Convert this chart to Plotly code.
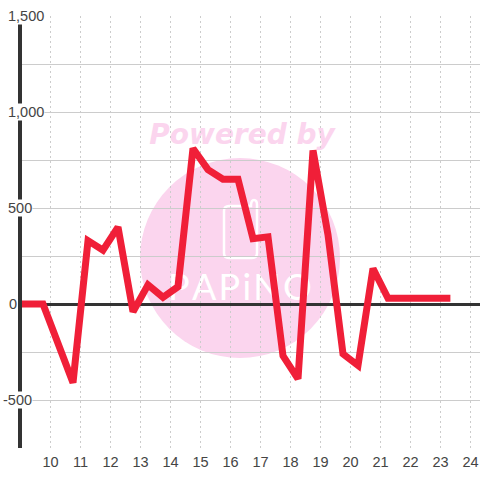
import plotly.graph_objects as go

xs = [8.75, 9.25, 9.75, 10.75, 11.25, 11.75, 12.25, 12.75, 13.25, 13.75, 14.25, 14.75, 15.25, 15.75, 16.25, 16.75, 17.25, 17.75, 18.25, 18.75, 19.25, 19.75, 20.25, 20.75, 21.25, 21.75, 22.25, 22.75, 23.33]
ys = [0, 0, 0, -410, 330, 280, 400, -40, 100, 35, 90, 810, 700, 650, 650, 340, 350, -270, -390, 800, 360, -260, -320, 185, 30, 30, 30, 30, 30]
x_ticks = list(range(10, 25))
y_grid = [-750, -500, -250, 0, 250, 500, 750, 1000, 1250, 1500]
y_labels = {1500: "1,500", 1000: "1,000", 500: "500", 0: "0", -500: "-500"}

L, R, T, B = 22, 480, 16, 448
def px_to_x(p): return 10 + (p - 50.5) / 30
def py_to_y(p): return (304 - p) / 96 * 500
def pt(px, py): return f"{px_to_x(px):.4f},{py_to_y(py):.2f}"

GRID = "#cccccc"
INK = "#333333"
TEXT = "#444444"
PINK = "#fbd5ee"

fig = go.Figure()
fig.add_trace(go.Scatter(x=xs, y=ys, mode="lines", cliponaxis=False, hoverinfo="skip",
                         line=dict(color="#f01f38", width=7)))

logo = ("M " + pt(224, 211) + " Q " + pt(224, 206) + " " + pt(229, 206)
        + " L " + pt(251, 206) + " Q " + pt(251, 200) + " " + pt(254, 200)
        + " Q " + pt(257, 200) + " " + pt(257, 205)
        + " L " + pt(257, 253) + " Q " + pt(257, 258) + " " + pt(252, 258)
        + " L " + pt(229, 258) + " Q " + pt(224, 258) + " " + pt(224, 253) + " Z")

shapes = [
    dict(type="circle", xref="x", yref="y", layer="below", fillcolor=PINK, line=dict(width=0),
         x0=px_to_x(140), x1=px_to_x(340), y0=py_to_y(358), y1=py_to_y(158)),
    dict(type="path", xref="x", yref="y", layer="below", fillcolor="rgba(0,0,0,0)",
         line=dict(color="white", width=2.5), path=logo),
    dict(type="rect", xref="x", yref="y", layer="below", fillcolor="rgba(0,0,0,0)", line=dict(width=0),
         x0=px_to_x(142), x1=px_to_x(342), y0=py_to_y(148), y1=py_to_y(116),
         label=dict(text="<b><i>Powered by</i></b>", textposition="middle center",
                    font=dict(family="DejaVu Sans", size=28, color=PINK))),
    dict(type="rect", xref="x", yref="y", layer="below", fillcolor="rgba(0,0,0,0)", line=dict(width=0),
         x0=px_to_x(140), x1=px_to_x(340), y0=py_to_y(306), y1=py_to_y(266),
         label=dict(text="P\u200aA\u200aP\u200ai\u200aN\u200aO", textposition="middle center",
                    font=dict(family="Lato", size=36, color="white", weight=400))),
]

annotations = []
for v, t in y_labels.items():
    annotations.append(dict(x=0, xref="paper", xshift=-L + (7 if v != -500 else 2) + (1 if v == 0 else 0),
                            y=v, yref="y", yshift=0,
                            text=t, showarrow=False, xanchor="left", yanchor="middle",
                            bgcolor="white", borderpad=0,
                            font=dict(family="Liberation Sans", size=14.5, color=TEXT)))

fig.update_layout(
    width=480, height=480, showlegend=False,
    margin=dict(l=L, r=480 - R, t=T, b=480 - B, pad=0),
    paper_bgcolor="white", plot_bgcolor="rgba(0,0,0,0)",
    shapes=shapes, annotations=annotations,
    xaxis=dict(range=[px_to_x(L), px_to_x(R)], tickmode="array", tickvals=x_ticks,
               ticktext=[str(v) for v in x_ticks], showgrid=True, gridcolor=GRID, griddash="2px,3px",
               gridwidth=1, zeroline=False, ticks="outside", ticklen=1, tickcolor="rgba(0,0,0,0)", showline=False,
               tickfont=dict(family="Liberation Sans", size=14.5, color=TEXT)),
    yaxis=dict(range=[-750, 1500], tickmode="array", tickvals=y_grid, showticklabels=False,
               showgrid=True, gridcolor=GRID, gridwidth=1, zeroline=True, zerolinecolor=INK,
               zerolinewidth=3, ticks="", showline=True, linecolor=INK, linewidth=3.5),
)
fig.write_html("out.html", config={"displayModeBar": False},
               post_script="document.body.style.margin='0';")
